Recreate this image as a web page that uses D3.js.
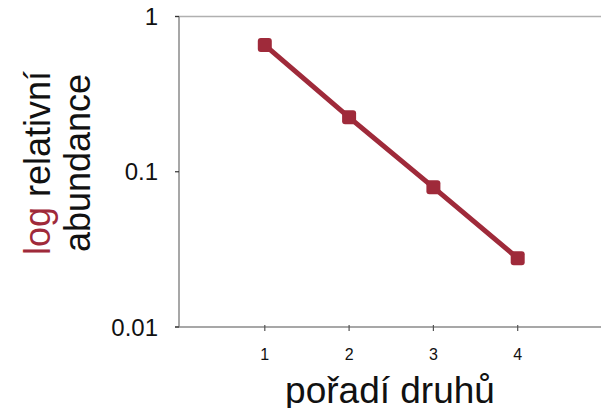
<!DOCTYPE html>
<html>
<head>
<meta charset="utf-8">
<script src="https://cdn.jsdelivr.net/npm/d3@7"></script>
<style>
  html, body { margin: 0; padding: 0; background: #fff; }
  svg { display: block; font-family: "Liberation Sans", Arial, sans-serif; }
</style>
</head>
<body>
<svg id="chart" width="601" height="408"></svg>
<script>
// Rank–abundance data (geometric series)
const ranks = [1, 2, 3, 4];
const abundance = [0.655, 0.224, 0.0794, 0.0277];
const xTicks = [1, 2, 3, 4];
const yTicks = [0.01, 0.1, 1];
const yTickLabels = ["0.01", "0.1", "1"];

const accent = "#9F2A3A";
const svg = d3.select("#chart");

const x = d3.scaleLinear().domain([0, 5]).range([180.5, 602]);
const y = d3.scaleLog().domain([0.01, 1]).range([327, 16.5]);

const left = 179, right = 601;

// frame: top line and axes
svg.append("line")
  .attr("x1", left - 4).attr("x2", right)
  .attr("y1", y(1)).attr("y2", y(1))
  .attr("stroke", "#b0b0b0").attr("stroke-width", 1.5);

svg.append("line")
  .attr("x1", left).attr("x2", left)
  .attr("y1", y(1)).attr("y2", y(0.01))
  .attr("stroke", "#8a8a8a").attr("stroke-width", 1.5);

svg.append("line")
  .attr("x1", left - 4).attr("x2", right)
  .attr("y1", y(0.01)).attr("y2", y(0.01))
  .attr("stroke", "#8a8a8a").attr("stroke-width", 1.5);

// y ticks and labels
yTicks.forEach((t, i) => {
  svg.append("line")
    .attr("x1", left - 4).attr("x2", left)
    .attr("y1", y(t)).attr("y2", y(t))
    .attr("stroke", "#333").attr("stroke-width", 1.2);
  svg.append("text")
    .attr("x", 158).attr("y", y(t) + 8.6)
    .attr("text-anchor", "end")
    .attr("font-size", 24)
    .attr("fill", "#111")
    .text(yTickLabels[i]);
});

// x ticks and labels
xTicks.forEach(t => {
  svg.append("line")
    .attr("x1", x(t)).attr("x2", x(t))
    .attr("y1", y(0.01) - 2).attr("y2", y(0.01) + 4)
    .attr("stroke", "#555").attr("stroke-width", 1.2);
  svg.append("text")
    .attr("x", x(t)).attr("y", 360)
    .attr("text-anchor", "middle")
    .attr("font-size", 16)
    .attr("fill", "#111")
    .text(t);
});

// series line
const pts = ranks.map((r, i) => [r, abundance[i]]);
svg.append("path")
  .datum(pts)
  .attr("fill", "none")
  .attr("stroke", accent)
  .attr("stroke-width", 5)
  .attr("d", d3.line().x(d => x(d[0])).y(d => y(d[1])));

// markers
const ms = 14;
svg.selectAll("rect.marker")
  .data(pts)
  .join("rect")
  .attr("class", "marker")
  .attr("x", d => x(d[0]) - ms / 2)
  .attr("y", d => y(d[1]) - ms / 2)
  .attr("width", ms).attr("height", ms)
  .attr("rx", 3).attr("ry", 3)
  .attr("fill", accent);

// axis titles
svg.append("text")
  .attr("x", (left + right) / 2).attr("y", 403)
  .attr("text-anchor", "middle")
  .attr("font-size", 37)
  .attr("fill", "#111")
  .text("pořadí druhů");

const yTitle = svg.append("g").attr("transform", "translate(0,163) rotate(-90)");
const line1 = yTitle.append("text")
  .attr("x", 0).attr("y", 50)
  .attr("text-anchor", "middle")
  .attr("font-size", 36)
  .attr("fill", "#111");
line1.append("tspan").attr("fill", accent).text("log");
line1.append("tspan").text(" relativní");
yTitle.append("text")
  .attr("x", 0).attr("y", 90)
  .attr("text-anchor", "middle")
  .attr("font-size", 36)
  .attr("fill", "#111")
  .text("abundance");
</script>
</body>
</html>
